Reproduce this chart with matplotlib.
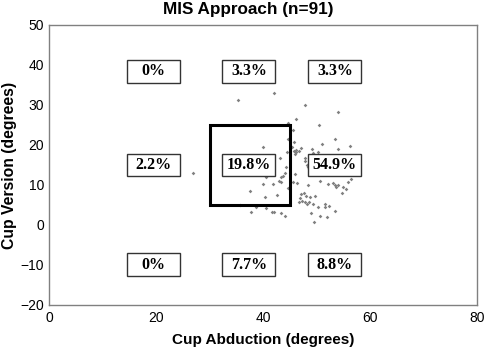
import matplotlib
matplotlib.use('Agg')
import matplotlib.pyplot as plt
from matplotlib.patches import Rectangle

# cup abduction / version for each hip
abduction = [
    # upper zones
    35.3, 42.1, 44.7, 47.9, 53.9, 46.2,
    # left middle
    26.9, 21.0,
    # target zone
    40.0, 43.1, 44.1, 43.75, 43.25, 43.0, 43.4, 41.9, 39.9, 40.6,
    44.6, 37.6, 40.4, 42.5, 44.3, 44.7, 35.6, 44.5,
    # right middle
    45.5, 45.75, 50.5, 53.5, 51.05, 49.1, 47.1, 45.8, 46.2, 46.0,
    45.4, 54.05, 56.3, 49.3, 47.9, 47.9, 48.1, 48.4, 48.6, 45.9,
    45.6, 46.4, 48.4, 47.0, 47.7, 48.0, 46.8, 47.3, 48.8, 49.6,
    47.9, 48.2, 49.25, 52.1, 53.1, 53.5, 53.9, 53.7, 55.0, 54.7,
    55.4, 55.9, 56.4, 50.6, 46.1, 46.7, 50.3, 46.6, 48.6, 51.6,
    # lower zones
    37.8, 40.6, 41.6, 42.0, 43.3, 44.1, 38.6,
    50.2, 48.9, 49.55, 50.6, 51.9, 51.5, 52.3, 53.4,
]
version = [
    31.3, 33.0, 25.6, 29.9, 28.3, 26.4,
    12.9, 15.0,
    19.4, 16.8, 12.9, 12.25, 11.9, 11.1, 10.75, 10.3, 10.3, 12.1,
    9.2, 8.6, 6.9, 7.5, 14.5, 21.5, 5.1, 18.3,
    23.75, 20.8, 24.9, 21.4, 20.3, 19.0, 19.2, 18.5, 18.25, 17.75,
    19.4, 19.0, 19.7, 18.1, 16.7, 15.9, 15.1, 14.6, 13.9, 12.7,
    10.7, 10.6, 10.0, 7.75, 8.1, 7.3, 6.8, 6.1, 6.9, 7.25,
    5.7, 5.3, 5.3, 10.25, 10.4, 9.9, 10.1, 9.4, 9.4, 8.1,
    8.9, 10.7, 11.6, 11.0, 18.75, 18.5, 18.25, 5.8, 5.8, 5.2,
    3.2, 4.2, 3.3, 3.2, 2.9, 2.3, 4.6,
    4.4, 2.9, 0.8, 2.25, 2.0, 4.6, 4.7, 3.5,
]

zone_labels = ['0%', '3.3%', '3.3%',
               '2.2%', '19.8%', '54.9%',
               '0%', '7.7%', '8.8%']

# safe zone (Lewinnek): abduction 30-45, version 5-25
safe_abd = (30, 45)
safe_ver = (5, 25)

col_x = [19.4, 37.3, 53.4]
row_y = [38.4, 15.0, -9.9]

fig = plt.figure(figsize=(4.87, 3.51), dpi=100)
ax = fig.add_axes([0.1016, 0.1311, 0.8779, 0.7977])

ax.scatter(abduction, version, s=3.5, marker='D', color='#808080',
           linewidths=0, zorder=2)

ax.add_patch(Rectangle((safe_abd[0], safe_ver[0]), safe_abd[1] - safe_abd[0],
                       safe_ver[1] - safe_ver[0], fill=False,
                       edgecolor='black', linewidth=2.2, zorder=3))

w, h = 9.9, 5.7
for i, lab in enumerate(zone_labels):
    cx = col_x[i % 3]
    cy = row_y[i // 3]
    ax.add_patch(Rectangle((cx - w / 2, cy - h / 2), w, h, facecolor='white',
                           edgecolor='#333333', linewidth=1.0, zorder=4))
    ax.text(cx, cy, lab, ha='center', va='center', fontsize=11.5,
            fontweight='bold', family='Liberation Serif', zorder=5)

ax.set_xlim(0, 80)
ax.set_ylim(-20, 50)
ax.set_xticks([0, 20, 40, 60, 80])
ax.set_yticks([-20, -10, 0, 10, 20, 30, 40, 50])
ax.tick_params(length=0, labelsize=10, pad=4)
for lbl in ax.get_xticklabels() + ax.get_yticklabels():
    lbl.set_family('Liberation Sans')
for sp in ax.spines.values():
    sp.set_color('#808080')
    sp.set_linewidth(1.0)

ax.set_xlabel('Cup Abduction (degrees)', fontsize=11, fontweight='bold',
              family='Liberation Sans', labelpad=6)
ax.set_ylabel('Cup Version (degrees)', fontsize=11.3, fontweight='bold',
              family='Liberation Sans')
ax.yaxis.set_label_coords(-0.076, 0.5)
fig.text(0.509, 0.972, 'MIS Approach (n=91)', ha='center', va='center',
         fontsize=12.3, fontweight='bold', family='Liberation Sans')

fig.savefig('out.png', dpi=100)
